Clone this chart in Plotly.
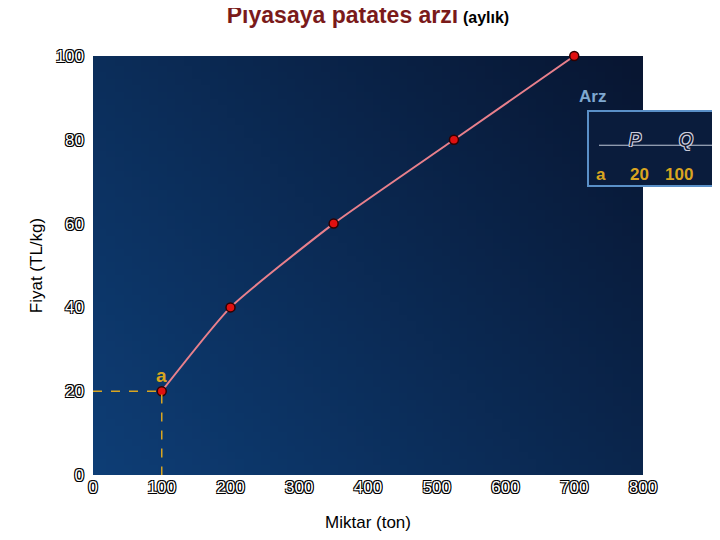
import plotly.graph_objects as go
import zlib, struct, base64

qty = [100, 200, 350, 525, 700]
price = [20, 40, 60, 80, 100]
x_ticks = [0, 100, 200, 300, 400, 500, 600, 700, 800]
y_ticks = [0, 20, 40, 60, 80, 100]

# gradient background PNG
W, H = 64, 64
rows = b""
for j in range(H):
    rows += b"\x00"
    for i in range(W):
        t = (i / (W - 1)) * 0.6 + (1 - j / (H - 1)) * 0.4
        r = int(14 + (8 - 14) * t)
        g = int(62 + (22 - 62) * t)
        b = int(118 + (50 - 118) * t)
        rows += bytes([r, g, b])
def chunk(tag, data):
    c = struct.pack(">I", len(data)) + tag + data
    return c + struct.pack(">I", zlib.crc32(tag + data) & 0xffffffff)
png = b"\x89PNG\r\n\x1a\n" + chunk(b"IHDR", struct.pack(">IIBBBBB", W, H, 8, 2, 0, 0, 0)) + \
      chunk(b"IDAT", zlib.compress(rows)) + chunk(b"IEND", b"")
uri = "data:image/png;base64," + base64.b64encode(png).decode()

shadow = "-1px -1px 0 #000, 1px 1px 0 #000, 1px -1px 0 #000, -1px 1px 0 #000"
tickfont = dict(family="Arial", size=17, color="white", shadow=shadow)
gold = "#d9a520"
wshadow = "-1px -1px 0 #ccd, 1px 1px 0 #ccd, 1px -1px 0 #ccd, -1px 1px 0 #ccd"

fig = go.Figure()
fig.add_trace(go.Scatter(x=qty, y=price, mode="lines+markers", line=dict(color="#e8808c", width=2, shape="spline", smoothing=0.5),
                         marker=dict(color="#e01010", size=9, line=dict(color="#300000", width=1.5)), showlegend=False, cliponaxis=False))
fig.add_trace(go.Scatter(x=[0, qty[0], qty[0]], y=[price[0], price[0], 0], mode="lines",
                         line=dict(color=gold, width=1.5, dash="dash"), showlegend=False, hoverinfo="skip"))

fig.add_layout_image(dict(source=uri, xref="paper", yref="paper", x=0, y=1, sizex=1, sizey=1,
                          sizing="stretch", layer="below"))

fig.add_shape(type="rect", xref="paper", yref="paper", x0=0.9, x1=1.145, y0=0.69, y1=0.869,
              fillcolor="#0a1c3c", line=dict(color="#5a90c8", width=2))
fig.add_shape(type="line", xref="paper", yref="paper", x0=0.92, x1=1.135, y0=0.787, y1=0.787,
              line=dict(color="#c0c8d8", width=1))

ann = [
    dict(x=0.937, y=0.93, text="<b>Arz</b>", font=dict(size=17, color="#7fa8d0", family="Arial")),
    dict(x=1.0, y=0.828, text="<i>P</i>", font=dict(size=18, color="#101830", family="Arial", shadow=wshadow)),
    dict(x=1.095, y=0.828, text="<i>Q</i>", font=dict(size=18, color="#101830", family="Arial", shadow=wshadow)),
    dict(x=0.937, y=0.745, text="<b>a</b>", font=dict(size=17, color=gold, family="Arial")),
    dict(x=1.015, y=0.745, text="<b>20</b>", font=dict(size=17, color=gold, family="Arial")),
    dict(x=1.095, y=0.745, text="<b>100</b>", font=dict(size=17, color=gold, family="Arial")),
]
for a in ann:
    fig.add_annotation(xref="paper", yref="paper", showarrow=False, **a)
fig.add_annotation(x=qty[0], y=price[0], text="<b>a</b>", showarrow=False, yshift=16,
                   font=dict(size=19, color=gold, family="Arial"))

fig.update_layout(
    width=720, height=540, paper_bgcolor="white", plot_bgcolor="#0b2a55",
    margin=dict(l=85, r=85, t=48, b=73),
    title=dict(text="<b><span style='color:#7a1a1a;font-size:23px'>Piyasaya patates arzı</span> <span style='font-size:16px'>(aylık)</span></b>",
               x=0.5, xanchor="center", y=0.995, yanchor="top", font=dict(family="Arial", color="black")),
    xaxis=dict(range=[0, 800], tickvals=x_ticks, showgrid=False, zeroline=False, tickfont=tickfont, ticks="",
               automargin=False,
               title=dict(text="Miktar (ton)", font=dict(family="Arial", size=17, color="black"), standoff=20)),
    yaxis=dict(range=[0, 100], tickvals=y_ticks, showgrid=False, zeroline=False, tickfont=tickfont, ticks="",
               ticklabelstandoff=8, automargin=False,
               title=dict(text="Fiyat (TL/kg)", font=dict(family="Arial", size=17, color="black"), standoff=8)),
)
fig.write_html("out.html")
